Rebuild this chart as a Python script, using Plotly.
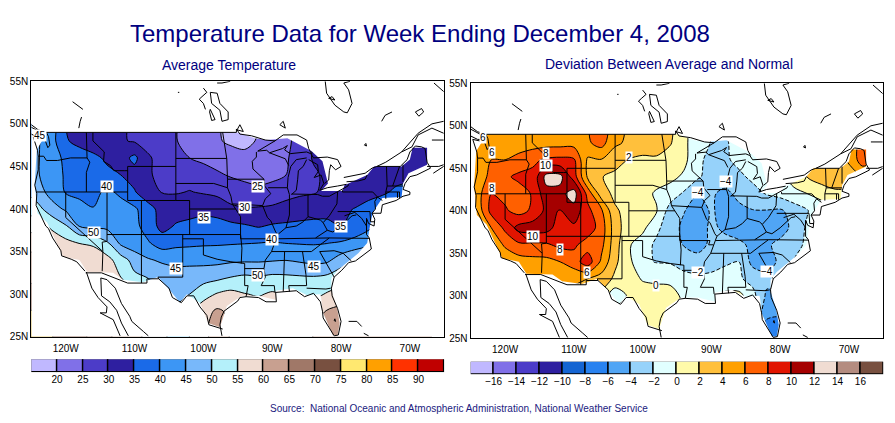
import plotly.graph_objects as go

#grid for both maps
lons = [-126,-124,-122,-120,-118,-116,-114,-112,-110,-108,-106,-104,-102,-100,-98,-96,-94,-92,-90,-88,-86,-84,-82,-80,-78,-76,-74,-72,-70,-68,-66]
lats = [24,26,28,30,32,34,36,38,40,42,44,46,48,50]

#average temperature, one row per latitude, south to north
avg_temp = [
    [76,76,75,73,71,69,66,63,61,59,56,53,55,58,62,60,59,59,59,59,59,60,63,64,64,64,64,64,64,64,64],
    [76,76,75,73,71,69,66,63,61,59,56,53,55,58.5,63,59,59,59,59,59,59,60,63,64,64,64,64,64,64,64],
    [75,75,74,72,70,68,65,62,60,58,55,52,54,58,60.8,59,58,58,58,58,58,58.5,60.3,61.8,62,62,62,62,62,62,62],
    [72,71,70,68,66,64,62,59,56,52,48.5,47.5,50,53,55.4,56.5,55.2,54.5,55.7,54.5,53.5,53.5,55.5,57,60,62,62,62,62,62,62],
    [70,68,66,63,60,58.5,57.5,55,51,49.8,48,47.5,47.7,48,48.7,50,50.8,50.3,51,50.8,50.5,50.3,51,53,56,58,60,60,60,60,60],
    [68,66,63,60,57.5,57,56.7,52.5,48,45.5,44.3,43.5,43.5,43.5,43.6,44.1,44.3,44.3,44.6,44.9,44.2,43.5,44,47.5,50,53,55,56,56,56,56],
    [64,61,58,56.5,54.9,54.5,50.7,44,42,40.5,37.5,38.7,39,39.3,39.4,39.6,39.8,40,40.3,39.9,39.7,39.6,39.9,40.5,41.8,43,45,46,46,46,46],
    [60,57,54,50.5,44.7,43.5,43.5,43,41.5,37.5,33.5,35.4,36,36.4,36.4,36.2,35.5,34.6,35.5,35.9,36.3,36.3,36,35,36.5,39,42,43,43,43,43],
    [54,51.5,47,44.3,42,40.2,42,42,40.8,37,33,33,33.5,34,33.5,31,30.4,30.6,31,31.5,32,33,33.5,34,35.2,37.5,39,39.5,40,40,40],
    [50,47,43,39.6,38.5,38.5,41,39,35.4,31.5,29.8,29.6,30.2,29.5,28.7,27.5,26.5,25.8,26.5,28.5,29.3,29.6,31,31.5,32,32.5,34,36,37,38,38],
    [48,45.3,42,39.5,38.3,37,36,35,33,30.3,29.3,28.7,28,27,25.6,24.6,24,23.8,24,25,27,29.2,31,32,33,33.5,33.5,33,33.5,34,34],
    [48.5,45.3,42,39,37.5,36,34.3,33,36.2,30.5,28.5,27,25,24,23.3,22.5,21.5,21,22,24.5,27,30.5,32,32.5,32.5,32.5,32.5,32.5,32.5,32,32],
    [49,45.5,41.7,35.5,33.5,32.5,31.5,30.5,29.5,28.5,27.5,25.2,23.5,22,20.6,19,18.5,20.5,22,24,26.5,30,32,32.5,32.5,32.5,32.5,32.5,32,32,32],
    [49,46,43,35,33.5,32.5,31.5,30.5,29.5,28.5,27.5,25.3,23.5,22,20.4,19,18.5,19.8,21.5,24,26.5,30,32,32.5,32.5,32.5,32.5,32.5,32.5,32.5,32.5],
]

#deviation from normal, same grid
dev_temp = [
    [1,1,1,1,1,1,1,1,1,1,1,1,0.5,0.8,0.9,0.8,0,-0.5,-0.5,0,0,-3,-7.2,-7.4,-5,-4,-3,-2,-2,-2,-2],
    [1,1,1,1,1,1,1,1,1,1,1,1,0.5,0.8,0.9,0.8,0,-0.5,-0.5,0,0,-3,-7.2,-7.4,-5,-4,-3,-2,-2,-2,-2],
    [1,1,1,1,1,1,1,1,1,1,1.5,1,0.5,0.8,0.9,0.8,0,-0.5,-0.5,0,0,-2,-5.2,-5.5,-4,-3,-2,-2,-2,-2,-2],
    [0,0,1,2,2,3,3,3,3,3,1.5,-1.4,0.3,0.6,0.7,0.8,-0.4,-0.7,-0.6,0.6,0.6,-1.3,-4.3,-4.4,-3,-2,-1,-1,-1,-1,-1],
    [0,1,2,3,3.5,3.8,4,4.2,4.5,4,3.2,1.6,0.5,-0.1,-0.3,-0.5,-1.5,-1.6,-1.5,-1.7,-1.7,-2.7,-3.5,-3.3,-2.6,-2,-1,-1,-1,-1,-1],
    [1,2,3.5,4.5,5,5.3,5.4,6,7,9.2,5.6,2.4,0.5,-1.6,-2.1,-2.2,-2.6,-3,-2.8,-2.1,-2,-4.6,-4.7,-3.7,-2,-1.5,-1,-1,-1,-1,-1],
    [1,2.5,4.5,6.3,7.6,7.6,7.7,8.5,8.4,7,6.6,2.8,0.2,-1,-2.4,-3.2,-4.1,-4.9,-3.5,-3.3,-3.6,-4.4,-4.3,-3.5,-2.5,-1.7,-1,-1,-1,-1,-1],
    [2,3.5,6,8.5,10.7,11,10.8,9,9.6,9.2,7.1,2.9,0.9,0.5,-1.5,-3.2,-4.4,-5,-3.6,-4.4,-4.9,-5,-5,-4.8,-3.5,-1.6,-1,-1,-1,-1,-1],
    [3,4.7,8.7,8.3,7.2,8.4,10.5,9.9,11.2,8.6,6.4,2.3,1.3,0.9,0.2,-2.9,-3.9,-4.9,-3.8,-4.6,-4.4,-4.1,-4.1,-4.3,-3.2,-2.1,-0.8,-0.3,-0.3,-0.3,-0.3],
    [3.5,5.2,8,7.4,7,8.2,11.3,11.3,13,7.3,3,1.5,0.9,0.8,-0.3,-0.9,-2.3,-3.9,-3.8,-4.4,-3.6,-2.7,-1.9,-1.3,-0.5,0,0.5,1.4,1.5,2,2],
    [4,5,6.5,7.6,8.5,8.5,12.7,12.6,9,3.7,2.1,1.4,1.1,1,0.9,0.5,-0.3,-1.7,-2.8,-3.2,-2.4,-1.6,-1.2,-0.5,0.8,2.1,3.2,3.6,3.4,4,4],
    [4,4.8,6,6,6.5,7.6,8.3,8.5,8.3,3.7,3.9,3,1.9,1.5,1.7,1,0.5,-1.4,-2.8,-2.3,-1.5,-1.2,-1,0.5,1.5,2.5,3,3.2,4.2,7.2,6],
    [4.8,5,5.2,5.2,5.2,5,5.2,5.2,5.2,5.7,6.8,4.3,3.7,3.4,3,2.2,0.4,-1,-2.1,-2.1,-1.7,-1.2,-0.8,0,1,2,3,3.5,4.5,7,7],
    [4.8,5,5.2,5.2,5.2,5,5,5,5,5.9,7,5.2,3.6,3.4,3,2.5,0.5,-1,-2,-2,-1.7,-1.2,-0.8,0,1,2,3,3.5,4.5,7,7],
]

#contour levels and colors
temp_levels = [20,25,30,35,40,45,50,55,60,65,70,75,80,85,90]
temp_colors = ["#c0b8ff","#8070e8","#4c3cc8","#2e1fa0","#1a6ae8","#3c96f5","#78b8fa","#b4f0fa","#f0dcd2","#c8a090","#a07868","#785040","#ffe870","#ffa000","#ff3200","#c00000"]
dev_levels = [-16,-14,-12,-10,-8,-6,-4,-2,0,2,4,6,8,10,12,14,16]
dev_colors = ["#c0b8ff","#8070e8","#4c3cc8","#2e1fa0","#1464d2","#2882f0","#50a5f5","#96d2fa","#e1ffff","#fffaaa","#ffc03c","#ffa000","#ff6000","#e11400","#a50000","#f0dcd2","#b48c80","#785040"]

#contour labels on each map
temp_labels = [("45",-123.7,48.6),("40",-114,42.7),("35",-99.9,39),("25",-92,42.7),("30",-94,40.2),("50",-115.9,37.2),("45",-104,33),("35",-80,38),("40",-90,36.4),("45",-84,33.3),("50",-92,32.2)]
dev_labels = [("6",-123.2,48.6),("6",-121.9,46.9),("8",-114.05,46.7),("10",-114.05,45.3),("8",-121.9,42.6),("10",-115.9,37),("8",-112,35.5),("6",-108.1,32.7),("2",-102,46.3),("\u22124",-87.9,43.4),("\u22124",-91.9,42.1),("\u22124",-81.9,32.9),("\u22122",-91.9,32.7),("0",-98.1,31.2)]

#edge of the plotted data, anything outside is left white
data_edge = [(-122.7,49),(-95,49),(-92.5,48.3),(-90.8,48.1),(-87.8,48.3),(-84.3,46.8),(-82.7,45.6),(-81.9,43),(-82.9,42.1),(-79.8,42.1),(-79.5,42.8),(-76.2,44),(-75.2,45),(-71.2,45),(-70,45.8),(-69.6,47.2),(-67.5,47.2),(-67.5,45.2),(-70.2,44.2),(-71,43),(-71.2,41.4),(-74,41.3),(-75.4,39.6),(-75.8,38),(-76.2,36),(-77.5,34.8),(-80.5,32.8),(-81.4,31.9),(-81.4,30.5),(-80.6,28.5),(-80.2,26.6),(-80.5,25.2),(-81.2,25.2),(-81.9,26.5),(-82.7,28),(-82.9,29.6),(-83,30),(-85,29.9),(-87,30.7),(-89.5,30.4),(-89.4,29.3),(-92,29.8),(-94.4,29.8),(-96.6,28.6),(-97.6,26.1),(-99.3,26.6),(-100.5,29),(-102.4,30),(-103.4,29),(-104.9,30.5),(-106.6,32),(-108.8,31.4),(-111.7,31.7),(-113.1,32.5),(-116.9,32.6),(-118,34),(-120.4,34.4),(-122.7,38.4),(-124.1,39.5),(-124.5,43),(-124.2,47)]

#coasts, lakes and neighbours
coast_lines = [
    [(-125,49.9),(-124,49.3),(-123.2,49.1),(-122.8,49),(-122.5,48.5),(-122.3,47.5),(-122.6,47.2),(-123,48.1),(-124.7,48.4),(-124.1,46.9),(-124,46.2),(-124,44.6),(-124.5,42.8),(-124.2,41.8),(-124.3,40.4),(-123.8,39.5),(-122.9,38),(-122.5,37.7),(-121.9,36.6),(-120.7,35.1),(-120.6,34.5),(-119.2,34.1),(-118.4,33.8),(-117.2,32.7)],
    [(-125,48.8),(-124,48.4),(-123.4,48.4),(-123.6,49),(-125,49.6)],
    [(-117.1,32.5),(-114.8,32.5),(-111,31.3),(-108.2,31.3),(-108.2,31.8),(-106.5,31.8),(-105,30.7),(-104.5,29.6),(-103.2,29),(-102.4,29.8),(-101.4,29.8),(-100.5,28.5),(-99.5,27.5),(-99.2,26.4),(-97.2,25.9)],
    [(-97.3,25.1),(-97.6,26.4),(-97.4,27.3),(-97,28),(-95,29.2),(-94.7,29.6),(-93.8,29.7),(-92,29.6),(-90.9,29.1),(-89.4,29.1),(-89.5,30.2),(-88.1,30.3),(-86.5,30.4),(-85.3,29.7),(-84,30.1),(-83,29.1),(-82.7,28),(-82.6,27.2),(-81.8,26.1),(-81,25.1),(-80.4,25.2),(-80,26.8),(-80.5,28.3),(-81.3,29.8),(-81.4,30.7),(-81,32),(-79.9,32.8),(-78.9,33.7),(-77.9,33.9),(-76.6,34.7),(-75.6,35.3),(-75.9,36.6),(-76.3,37),(-76.3,38.9),(-76,38.3),(-75.2,38),(-75.1,38.8),(-75.5,39.5),(-74.2,39.5),(-74,40.5),(-72,41),(-71,41.5),(-70,41.7),(-70,42),(-71,42.3),(-70.7,43),(-70,43.8),(-69,44),(-67,44.8),(-67.5,45.5),(-67.8,47.1),(-68.3,47.3),(-69.2,47.4),(-70,46.7),(-70.4,45.8),(-71.4,45),(-74.8,45)],
    [(-117,32.6),(-116.2,30.7),(-115.3,29.6),(-114,28.5),(-114.1,27.8),(-115,27.8),(-113.1,27),(-112.1,25.1)],
    [(-114.9,31.9),(-114.8,29.8),(-113.6,29.1),(-112.6,28.1),(-111.9,26.6),(-110.9,25.1)],
    [(-114.9,31.9),(-114,31.7),(-112.8,30.7),(-111.9,28.9),(-110.7,27.4),(-110.4,26.8),(-108.7,25.6),(-108,25.1)],
    [(-78.9,26.8),(-77.7,26.8),(-77,26.2)],
    [(-76.7,25.4),(-76,25.1)],
    [(-119,52.6),(-118.1,52.1),(-117.5,51.7)],
    [(-117.7,50.8),(-117.9,50.3),(-118.1,49.5)],
    [(-103.7,53.7),(-103.5,53.7)],
    [(-100,54.2),(-99.5,53.7),(-100.2,53.2),(-100.6,52.9),(-100,52.4),(-99.7,51.7)],
    [(-99,53.7),(-98,53.6),(-97.6,52.4),(-96.4,51.4),(-96.4,50.5),(-97.3,50.3),(-97.6,51.6),(-98.8,52.4),(-99,53.7)],
    [(-98,54.8),(-97.3,54.8),(-96.1,55)],
    [(-99,51.7),(-98.3,50.5),(-98.8,50.4),(-99.1,51.4),(-99,51.7)],
    [(-82.3,55),(-82.1,53.6),(-80.9,52.2),(-79.6,51.4),(-79.1,51.3),(-78.4,52.4),(-78.9,54),(-79.6,54.8),(-78.7,55)],
    [(-81.8,53),(-80.9,52.8),(-81.3,53.2),(-81.8,53)],
    [(-74.1,50.3),(-73.6,51),(-72.6,51.4)],
    [(-69.2,51.4),(-68.3,51.8),(-68,51.4),(-68.7,50.9),(-69.2,51.4)],
    [(-88.9,49.9),(-88.4,50.3),(-88.1,49.5),(-88.9,49.9)],
    [(-95.1,49.3),(-94.7,49.9),(-94.2,49.1),(-95.1,49.3)],
    [(-76.6,47.5),(-76.4,47.7),(-76.3,47.4),(-76.6,47.5)],
    [(-66.5,54.8),(-65.1,53.8)],
    [(-74.8,45),(-73.5,45.5),(-71.2,46.7),(-69.7,48.1),(-68.8,48.9),(-66.8,50),(-65.1,50.3)],
    [(-71.2,46.7),(-69.7,47.3),(-68.8,48.7),(-66.8,49.5),(-65.1,48.9)],
    [(-66.8,48.1),(-65.1,48.1)],
    [(-66.6,44.2),(-65.8,44.6),(-65.1,45)],
    [(-67.5,45),(-65.8,45),(-65.1,45.2)],
    [(-89.6,48),(-89.1,48.3),(-88.4,48.7),(-86.4,48.7),(-85,48.1),(-84.7,47.1),(-84.3,46.5)],
    [(-89.6,48),(-92.1,46.8),(-90.8,46.9),(-90.4,46.6),(-88.5,47.1),(-87.8,47.45),(-88.2,46.95),(-87.4,46.5),(-85,46.7),(-84.4,46.5),(-84,46)],
    [(-87.5,41.7),(-87.8,42.5),(-87.7,43.7),(-87.3,45),(-86.5,45.8),(-85,46)],
    [(-87.2,41.7),(-86.5,42.2),(-86.3,43.5),(-86.2,44.5),(-85.5,45),(-85,45.8)],
    [(-84.7,45.8),(-83.4,45.2),(-83.3,44.4),(-83.9,43.7),(-82.9,44),(-82.5,43),(-83.1,42.2)],
    [(-84,46),(-82,46.1),(-80.5,45.8),(-80,45),(-80.8,44.6),(-81.5,45.2),(-81.7,44.5),(-81.8,43.4),(-82.4,43)],
    [(-83.4,41.7),(-82.7,41.5),(-81.7,41.5),(-80.5,42),(-79,42.7),(-78.9,42.9)],
    [(-83.1,42.2),(-82,42.5),(-80.5,42.7),(-79.2,42.9)],
    [(-79.2,43.2),(-77.5,43.3),(-76.5,43.5),(-76.2,44)],
    [(-79.6,43.7),(-78,44),(-76.5,44.2),(-75.5,44.8),(-74.8,45)],
    [(-81,26.9),(-80.8,26.8),(-80.9,27.1),(-81,26.9)],
]

#state and national borders
state_lines = [
    [(-123,49),(-95.2,49),(-95.2,49.4),(-94.7,48.8),(-93,48.6),(-91,48.1),(-89.6,48)],
    [(-124,46.2),(-123.2,46.2),(-122.8,45.7),(-121.2,45.7),(-119.3,46),(-116.9,46)],
    [(-117,49),(-117,46.4),(-116.9,46),(-116.5,45.5),(-117,44.3),(-117,42)],
    [(-124.2,42),(-111,42)],
    [(-120,42),(-120,39),(-114.6,35),(-114.7,32.7)],
    [(-114,42),(-114,36.2),(-114.7,36.1),(-114.6,35)],
    [(-114,37),(-94.6,37)],
    [(-109,41),(-109,31.3)],
    [(-111,45),(-111,41),(-104,41),(-102,41),(-102,37)],
    [(-111,45),(-104,45)],
    [(-116.05,49),(-116.05,48),(-114.4,46.7),(-114.5,45.6),(-113.5,45.1),(-113,44.5),(-111.5,44.5),(-111,44.5)],
    [(-104,49),(-104,41)],
    [(-104,45.94),(-96.6,45.94)],
    [(-104,43),(-98.5,43),(-96.5,42.5),(-96,41.5),(-95.8,40.6),(-95.3,40),(-94.6,39.1),(-94.6,36.5),(-90.2,36.5),(-90.4,36),(-89.7,36)],
    [(-102,40),(-95.3,40)],
    [(-103,37),(-103,32),(-106.6,32),(-106.5,31.8)],
    [(-103,36.5),(-100,36.5),(-100,34.6),(-98,34.1),(-96,33.8),(-94.5,33.6),(-94,33.6),(-94,31),(-93.5,31),(-93.8,29.7)],
    [(-94.6,37),(-94.4,35.4),(-94.5,33.6)],
    [(-94,33),(-91.2,33)],
    [(-92.3,46.7),(-92.3,46.1),(-92.9,45.6),(-92.8,44.7),(-91.2,43.5),(-91.1,42.7),(-90.2,41.8),(-91,41.2),(-91.4,40.4),(-90.7,39),(-90.2,38.6),(-89.5,37.3),(-89.2,37),(-89.7,36),(-90.1,35),(-91,34),(-91.2,33),(-91,32),(-91.6,31),(-89.7,31),(-89.6,30.2)],
    [(-96.5,43.5),(-91.2,43.5)],
    [(-95.8,40.6),(-91.4,40.4)],
    [(-97.2,49),(-96.6,46.3),(-96.6,45.9),(-96.5,43.5),(-96.5,42.5)],
    [(-90.6,42.5),(-87.8,42.5)],
    [(-87.6,45.1),(-88.1,45.9),(-90.4,46.6)],
    [(-87.2,41.76),(-84.8,41.76),(-83.4,41.7)],
    [(-87.5,41.7),(-87.5,39.3),(-88,37.8)],
    [(-84.8,41.7),(-84.8,39.1)],
    [(-89.2,37),(-88,37.8),(-86.5,38),(-85.5,38.5),(-84.8,39.1),(-83,38.7),(-82.6,38.4),(-81.7,39.2),(-80.6,40.6),(-80.5,42)],
    [(-89.4,36.5),(-81.7,36.6),(-75.9,36.55)],
    [(-90.1,35),(-84.3,35),(-82.7,36),(-81.7,36.6)],
    [(-83.7,36.6),(-82,37.5),(-81.2,37.3),(-80,38),(-78.4,39.2),(-77.8,39.3)],
    [(-82.6,38.4),(-82,37.5)],
    [(-80.5,39.7),(-75.8,39.7),(-75.7,38.5),(-75.1,38.5)],
    [(-79.5,39.2),(-78,39.6),(-77,38.9),(-76.3,38)],
    [(-79.8,42.2),(-79.8,42),(-75.4,42),(-74.7,41.4),(-75.1,40.9),(-75,40),(-75.5,39.5)],
    [(-74.7,41.4),(-74,41)],
    [(-73.5,41.2),(-73.5,42),(-73.3,42.7),(-73.4,45)],
    [(-72.5,42.7),(-71.5,45)],
    [(-73.3,42.7),(-71,42.7)],
    [(-73.5,42),(-71.5,42),(-71.5,41.3)],
    [(-71.8,42),(-71.8,41.3)],
    [(-71,43.2),(-71,45.2)],
    [(-88.2,35),(-88.4,30.3)],
    [(-85.6,35),(-85.1,32.3),(-85,31),(-87.6,31),(-87.5,30.3)],
    [(-85,30.7),(-82.2,30.6),(-81.5,30.7)],
    [(-83.1,35),(-81,32)],
    [(-83.1,35),(-81,35.1),(-79.7,34.8),(-78.5,33.9)],
]

#flatten a list of polylines into x,y with breaks between them
def line_xy(lines):
    x, y = [], []
    for line in lines:
        x += [p[0] for p in line] + [None]
        y += [p[1] for p in line] + [None]
    return x, y

def step_scale(colors):
    scale = []
    n = len(colors)
    for i, c in enumerate(colors):
        scale.append([i/n, c])
        scale.append([(i+1)/n, c])
    return scale

#white cover over everything outside the data edge, the hole has to run the other way round
edge_back = data_edge[::-1]
mask_x = [-125,-65,-65,-125,-125] + [p[0] for p in edge_back] + [edge_back[0][0],-125,-125]
mask_y = [55,55,25,25,49] + [p[1] for p in edge_back] + [edge_back[0][1],49,55]

coast_x, coast_y = line_xy(coast_lines)
state_x, state_y = line_xy(state_lines)

fig = go.Figure()

#left map
fig.add_trace(go.Contour(x=lons, y=lats, z=avg_temp, xaxis="x", yaxis="y", showscale=False, hoverinfo="skip",
    colorscale=step_scale(temp_colors), zmin=15, zmax=95,
    contours=dict(start=20, end=90, size=5, coloring="fill", showlines=True),
    line=dict(color="black", width=1, smoothing=0.9)))

#right map, negative contours are dashed
fig.add_trace(go.Contour(x=lons, y=lats, z=dev_temp, xaxis="x2", yaxis="y2", showscale=False, hoverinfo="skip",
    colorscale=step_scale(dev_colors), zmin=-18, zmax=18,
    contours=dict(start=-16, end=16, size=2, coloring="fill", showlines=False),
    line=dict(width=0, smoothing=0.9)))
fig.add_trace(go.Contour(x=lons, y=lats, z=dev_temp, xaxis="x2", yaxis="y2", showscale=False, hoverinfo="skip",
    contours=dict(start=0, end=16, size=2, coloring="none"),
    line=dict(color="black", width=1, smoothing=0.9)))
fig.add_trace(go.Contour(x=lons, y=lats, z=dev_temp, xaxis="x2", yaxis="y2", showscale=False, hoverinfo="skip",
    contours=dict(start=-16, end=-2, size=2, coloring="none"),
    line=dict(color="black", width=1, dash="4px,2px", smoothing=0.9)))

#mask and outlines go on both maps
for xa, ya in [("x","y"),("x2","y2")]:
    fig.add_trace(go.Scatter(x=mask_x, y=mask_y, xaxis=xa, yaxis=ya, mode="lines", fill="toself",
        fillcolor="white", line=dict(width=0, simplify=False), hoverinfo="skip"))
    fig.add_trace(go.Scatter(x=coast_x, y=coast_y, xaxis=xa, yaxis=ya, mode="lines",
        line=dict(color="black", width=1), hoverinfo="skip"))
    fig.add_trace(go.Scatter(x=state_x, y=state_y, xaxis=xa, yaxis=ya, mode="lines",
        line=dict(color="black", width=1), hoverinfo="skip"))

#color keys under the maps
temp_mid = [temp_levels[0]-2.5] + [v+2.5 for v in temp_levels]
dev_mid = [dev_levels[0]-1] + [v+1 for v in dev_levels]
fig.add_trace(go.Bar(x=temp_mid, y=[1]*len(temp_mid), width=5, xaxis="x3", yaxis="y3", hoverinfo="skip", cliponaxis=False,
    marker=dict(color=temp_colors, line=dict(color="black", width=1.4))))
fig.add_trace(go.Bar(x=dev_mid, y=[1]*len(dev_mid), width=2, xaxis="x4", yaxis="y4", hoverinfo="skip", cliponaxis=False,
    marker=dict(color=dev_colors, line=dict(color="black", width=1.4))))

W, H = 895, 423
label_font = dict(family="Liberation Sans", size=10, color="black")

def map_axes(x0, x1, y0, y1):
    xa = dict(domain=[x0/W, x1/W], range=[-125,-65], tickvals=[-120,-110,-100,-90,-80,-70],
        ticktext=["120W","110W","100W","90W","80W","70W"], showgrid=False, zeroline=False, ticklabelstandoff=2,
        showline=True, mirror=True, linecolor="black", linewidth=1.2, ticks="", tickfont=label_font)
    ya = dict(domain=[1-y1/H, 1-y0/H], range=[25,55], tickvals=[25,30,35,40,45,50,55],
        ticktext=["25N","30N","35N","40N","45N","50N","55N"], showgrid=False, zeroline=False,
        showline=True, mirror=True, linecolor="black", linewidth=1.2, ticks="", tickfont=label_font)
    return xa, ya

xa1, ya1 = map_axes(31.3, 444.3, 81.3, 336.7)
xa2, ya2 = map_axes(470.7, 883.3, 83.3, 338.3)
ya2["anchor"] = "x2"
xa2["anchor"] = "y2"

annotations = []
for txt, lon, lat in temp_labels:
    annotations.append(dict(x=lon, y=lat, xref="x", yref="y", text=txt, showarrow=False,
        bgcolor="white", borderpad=0, font=label_font))
for txt, lon, lat in dev_labels:
    annotations.append(dict(x=lon, y=lat, xref="x2", yref="y2", text=txt, showarrow=False,
        bgcolor="white", borderpad=0, font=label_font))

#titles
def paper_text(txt, x, y, size, color):
    return dict(x=x/W, y=1-y/H, xref="paper", yref="paper", xanchor="center", yanchor="middle", text=txt,
        showarrow=False, font=dict(family="Liberation Sans", size=size, color=color))

annotations.append(paper_text("Temperature Data for Week Ending December 4, 2008", 419.5, 33, 24, "#000080"))
annotations.append(paper_text("Average Temperature", 229, 65, 14, "#000080"))
annotations.append(paper_text("Deviation Between Average and Normal", 669, 64, 14, "#000080"))
annotations.append(paper_text("Source:  National Oceanic and Atmospheric Administration, National Weather Service", 459, 408, 10, "#1a1a80"))

fig.update_layout(
    width=W, height=H, margin=dict(l=0, r=0, t=0, b=0, autoexpand=False), showlegend=False,
    paper_bgcolor="white", plot_bgcolor="white", bargap=0,
    xaxis=xa1, yaxis=ya1, xaxis2=xa2, yaxis2=ya2,
    xaxis3=dict(domain=[31.3/W, 444.3/W], range=[15,95], anchor="y3", tickvals=temp_levels, ticktext=[str(v) for v in temp_levels],
        showgrid=False, zeroline=False, ticks="", tickfont=label_font, showline=False),
    yaxis3=dict(domain=[1-372.3/H, 1-359.3/H], range=[0,1], anchor="x3", visible=False),
    xaxis4=dict(domain=[470.7/W, 883.3/W], range=[-18,18], anchor="y4", tickvals=dev_levels,
        ticktext=[str(v).replace("-", "\u2212") for v in dev_levels],
        showgrid=False, zeroline=False, ticks="", tickfont=label_font, showline=False),
    yaxis4=dict(domain=[1-374.3/H, 1-361.7/H], range=[0,1], anchor="x4", visible=False),
    annotations=annotations,
)

fig.write_html("out.html", config=dict(displayModeBar=False), post_script="document.body.style.margin='0';")
